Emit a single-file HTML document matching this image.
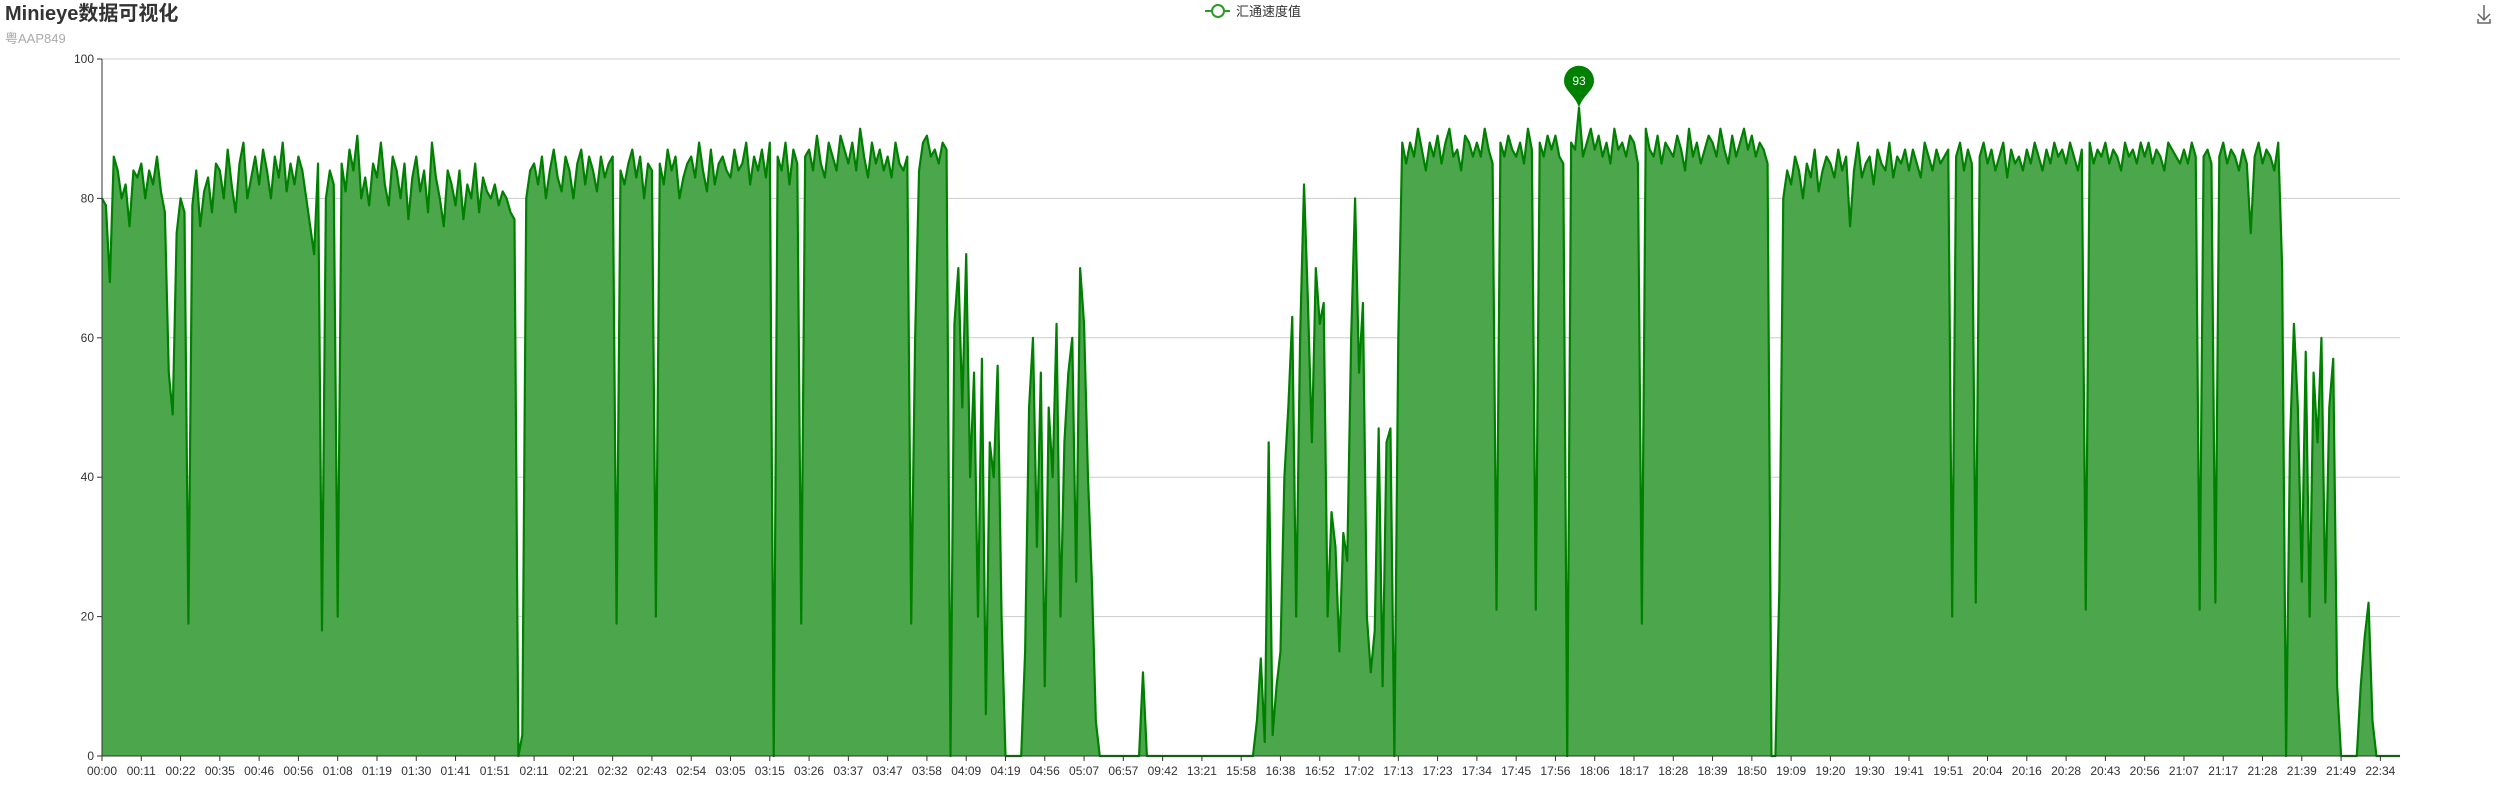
<!DOCTYPE html>
<html><head><meta charset="utf-8">
<style>
html,body{margin:0;padding:0;background:#fff;width:2500px;height:800px;overflow:hidden}
svg{display:block;font-family:"Liberation Sans","Noto Sans CJK SC",sans-serif}
</style></head>
<body>
<svg id="chart" width="2500" height="800">
<text x="5" y="20" font-size="20" font-weight="bold" fill="#333">Minieye数据可视化</text>
<text x="5" y="43" font-size="13" fill="#aaa">粤AAP849</text>
<g>
<line x1="1205" y1="11" x2="1230" y2="11" stroke="#2a9a2a" stroke-width="2"/>
<circle cx="1218" cy="11" r="6" fill="#fff" stroke="#2a9a2a" stroke-width="2"/>
<text x="1236" y="16" font-size="13" fill="#333">汇通速度值</text>
</g>
<g stroke="#666" stroke-width="1.5" fill="none">
<path d="M2484 5 V20 M2478 14 L2484 20 L2490 14 M2478 19 V23 H2490 V19"/>
</g>
<g id="grid"></g>
<g id="area"></g>
<g id="axes"></g>
<g id="pin"></g>
</svg>
<script>
const categoryLabels=["00:00","00:11","00:22","00:35","00:46","00:56","01:08","01:19","01:30","01:41","01:51","02:11","02:21","02:32","02:43","02:54","03:05","03:15","03:26","03:37","03:47","03:58","04:09","04:19","04:56","05:07","06:57","09:42","13:21","15:58","16:38","16:52","17:02","17:13","17:23","17:34","17:45","17:56","18:06","18:17","18:28","18:39","18:50","19:09","19:20","19:30","19:41","19:51","20:04","20:16","20:28","20:43","20:56","21:07","21:17","21:28","21:39","21:49","22:34"];
const yTicks=[0,20,40,60,80,100];
const speeds=[
80,79,68,86,84,80,82,76,84,83,
85,80,84,82,86,81,78,55,49,75,
80,78,19,79,84,76,81,83,78,85,
84,80,87,82,78,85,88,80,83,86,
82,87,84,80,86,83,88,81,85,82,
86,84,80,76,72,85,18,80,84,82,
20,85,81,87,84,89,80,83,79,85,
83,88,82,79,86,84,80,85,77,83,
86,81,84,78,88,83,80,76,84,82,
79,84,77,82,80,85,78,83,81,80,
82,79,81,80,78,77,0,3,80,84,
85,82,86,80,84,87,83,81,86,84,
80,85,87,82,86,84,81,86,83,85,
86,19,84,82,85,87,83,86,80,85,
84,20,85,82,87,84,86,80,83,85,
86,83,88,84,81,87,82,85,86,84,
83,87,84,85,88,82,86,84,87,83,
88,0,86,84,88,82,87,85,19,86,
87,84,89,85,83,88,86,84,89,87,
85,88,84,90,86,83,88,85,87,84,
86,83,88,85,84,86,19,60,84,88,
89,86,87,85,88,87,0,62,70,50,
72,40,55,20,57,6,45,40,56,20,
0,0,0,0,0,15,50,60,30,55,
10,50,40,62,20,45,55,60,25,70,
62,40,25,5,0,0,0,0,0,0,
0,0,0,0,0,12,0,0,0,0,
0,0,0,0,0,0,0,0,0,0,
0,0,0,0,0,0,0,0,0,0,
0,0,0,0,5,14,2,45,3,10,
15,40,50,63,20,60,82,65,45,70,
62,65,20,35,30,15,32,28,60,80,
55,65,20,12,18,47,10,45,47,0,
60,88,85,88,86,90,87,84,88,86,
89,85,88,90,86,87,84,89,88,86,
88,86,90,87,85,21,88,86,89,87,
86,88,85,90,87,21,88,86,89,87,
89,86,85,0,88,87,93,86,88,90,
87,89,86,88,85,90,87,88,86,89,
88,85,19,90,87,86,89,85,88,87,
86,89,87,84,90,86,88,85,87,89,
88,86,90,87,85,89,86,88,90,87,
89,86,88,87,85,0,0,24,80,84,
82,86,84,80,85,83,87,81,84,86,
85,83,87,84,86,76,84,88,83,85,
86,82,87,85,84,88,83,86,85,87,
84,87,85,83,88,86,84,87,85,86,
87,20,86,88,84,87,85,22,86,88,
85,87,84,86,88,83,87,85,86,84,
87,85,88,86,84,87,85,88,86,87,
85,88,86,84,87,21,88,85,87,86,
88,85,87,86,84,88,86,87,85,88,
86,88,85,87,86,84,88,87,86,85,
87,85,88,86,21,86,87,85,22,86,
88,85,87,86,84,87,85,75,86,88,
85,87,86,84,88,70,0,45,62,50,
25,58,20,55,45,60,22,50,57,10,
0,0,0,0,0,10,17,22,5,0,
0,0,0,0,0,0
];
const labelEvery=10;
const L=102,R=2400,T=59,B=756;
const NS="http://www.w3.org/2000/svg";
const n=speeds.length;
function xS(i){return L+i*(R-L)/(n-1);}
function yS(v){return B-v/100*(B-T);}
function mk(tag,attrs,parent){const e=document.createElementNS(NS,tag);for(const k in attrs)e.setAttribute(k,attrs[k]);parent.appendChild(e);return e;}
const grid=document.getElementById('grid'),axes=document.getElementById('axes'),area=document.getElementById('area'),pin=document.getElementById('pin');
yTicks.forEach(t=>{
 const y=yS(t);
 if(t>0){const g=mk('line',{x1:L,x2:R,y1:y,y2:y,stroke:'#ccc','stroke-width':1},grid);
 
 }
 mk('line',{x1:L-5,x2:L,y1:y,y2:y,stroke:'#333'},axes);
 const tx=mk('text',{x:L-8,y:y+4,'font-size':12,fill:'#333','text-anchor':'end'},axes);
 tx.textContent=t;
 
 
});
let d='M'+xS(0)+' '+B;
let ld='';
speeds.forEach((v,i)=>{d+=' L'+xS(i).toFixed(2)+' '+yS(v).toFixed(2);ld+=(i?' L':'M')+xS(i).toFixed(2)+' '+yS(v).toFixed(2);});
d+=' L'+xS(n-1)+' '+B+' Z';
const ar=mk('path',{d:d,fill:'#4ca64c'},area);


const ln=mk('path',{d:ld,fill:'none',stroke:'#008000','stroke-width':2.2,'stroke-linejoin':'round'},area);


mk('line',{x1:L,x2:L,y1:T,y2:B,stroke:'#333'},axes);
mk('line',{x1:L,x2:R,y1:B,y2:B,stroke:'#333'},axes);
categoryLabels.forEach((lab,k)=>{
 const x=xS(k*labelEvery);
 mk('line',{x1:x,x2:x,y1:B,y2:B+5,stroke:'#333'},axes);
 const tx=mk('text',{x:x,y:B+19,'font-size':12,fill:'#333','text-anchor':'middle'},axes);
 tx.textContent=lab;
 
 
});
let mi=0;speeds.forEach((v,i)=>{if(v>speeds[mi])mi=i;});
const px=xS(mi),py=yS(speeds[mi]);
const g=mk('g',{},pin);


const cy=py-27;
mk('path',{d:`M${px} ${py} C${px-4} ${cy+14} ${px-15} ${cy+10} ${px-15} ${cy} A15 15 0 1 1 ${px+15} ${cy} C${px+15} ${cy+10} ${px+4} ${cy+14} ${px} ${py} Z`,fill:'#008000'},g);
const pt=mk('text',{x:px,y:cy+4,'font-size':12,fill:'#fff','text-anchor':'middle'},g);
pt.textContent=speeds[mi];
</script>
</body></html>
